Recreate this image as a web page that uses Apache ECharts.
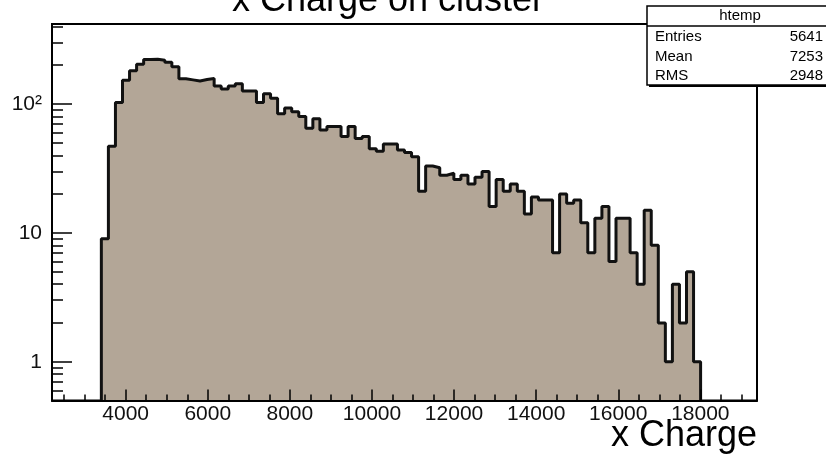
<!DOCTYPE html>
<html><head><meta charset="utf-8">
<script src="https://cdn.jsdelivr.net/npm/echarts@6/dist/echarts.min.js"></script>
<style>html,body{margin:0;padding:0;background:#fff}#c{width:826px;height:464px}</style>
</head><body><div id="c"></div>
<script>
const chartTitle = 'x Charge on cluster';
const xTitle = 'x Charge';
const histName = 'htemp';
const statLabels = ['Entries', 'Mean', 'RMS'];
const statValues = ['5641', '7253', '2948'];

// histogram binning (100 bins over the axis range); counts start at bin index 7
const xRange = [2205, 19380];
const nBins = 100;
const firstBin = 7;
const counts = [
  9, 47, 103, 153, 181, 204, 222, 223, 219, 211,
  195, 157, 154, 151, 155, 158, 138, 131, 138, 144,
  126, 126, 103, 120, 111, 84, 93, 87, 80, 65,
  77, 63, 67, 67, 56, 67, 54,
  56, 45, 43, 49, 49, 44, 42, 39, 21, 33,
  32, 28, 29, 26, 28, 24, 27, 30,
  16, 26, 21, 24, 21, 14, 19, 18, 18, 7,
  20, 17, 18, 12, 7, 13, 16, 6, 13, 13,
  7, 4, 15, 8, 2, 1, 4, 2, 5, 1
];

const xMajorTicks = [4000, 6000, 8000, 10000, 12000, 14000, 16000, 18000];
const xMinorTicks = [2500, 3000, 3500, 4500, 5000, 5500, 6500, 7000, 7500, 8500, 9000, 9500,
  10500, 11000, 11500, 12500, 13000, 13500, 14500, 15000, 15500, 16500, 17000, 17500, 18500, 19000];
const yRange = [0.5, 418];
const yMajorTicks = [1, 10, 100];
const yMajorLabels = ['1', '10', '10²'];
const yMinorTicks = [0.6, 0.7, 0.8, 0.9, 2, 3, 4, 5, 6, 7, 8, 9, 20, 30, 40, 50, 60, 70, 80, 90, 200, 300, 400];

const FONT = '"Liberation Sans", Arial, Helvetica, sans-serif';
const fillColor = '#b3a697';

const binW = (xRange[1] - xRange[0]) / nBins;
const stepData = [[xRange[0] + firstBin * binW, yRange[0]]];
counts.forEach((c, i) => stepData.push([xRange[0] + (firstBin + i) * binW, c]));
stepData.push([xRange[0] + (firstBin + counts.length) * binW, yRange[0]]);

const chart = echarts.init(document.getElementById('c'), null, {renderer: 'canvas'});

const baseX = {
  type: 'value', min: xRange[0], max: xRange[1], position: 'bottom', z: 5,
  splitLine: {show: false}
};
const baseY = {
  type: 'log', logBase: 10, min: yRange[0], max: yRange[1], position: 'left', z: 5,
  splitLine: {show: false}
};

chart.setOption({
  animation: false,
  backgroundColor: '#fff',
  grid: {left: 52, right: 69, top: 24, bottom: 63.5, show: true, borderColor: '#000', borderWidth: 2, backgroundColor: 'transparent'},
  xAxis: [
    Object.assign({}, baseX, {
      axisLine: {show: true, lineStyle: {color: '#000', width: 2}},
      axisTick: {show: true, inside: true, length: 11, lineStyle: {color: '#000', width: 1.5}, customValues: xMajorTicks},
      axisLabel: {show: true, customValues: xMajorTicks, color: '#111', fontFamily: FONT, fontSize: 21, margin: 3,
        formatter: v => String(v)}
    }),
    Object.assign({}, baseX, {
      axisLine: {show: false},
      axisTick: {show: true, inside: true, length: 6, lineStyle: {color: '#000', width: 1.5}, customValues: xMinorTicks},
      axisLabel: {show: false}
    })
  ],
  yAxis: [
    Object.assign({}, baseY, {
      axisLine: {show: true, lineStyle: {color: '#000', width: 2}},
      axisTick: {show: true, inside: true, length: 20, lineStyle: {color: '#000', width: 1.5}, customValues: yMajorTicks},
      axisLabel: {show: true, customValues: yMajorTicks, color: '#111', fontFamily: FONT, fontSize: 21, margin: 10,
        formatter: v => yMajorLabels[yMajorTicks.indexOf(Math.round(v))] || String(v)}
    }),
    Object.assign({}, baseY, {
      axisLine: {show: false},
      axisTick: {show: true, inside: true, length: 11, lineStyle: {color: '#000', width: 1.5}, customValues: yMinorTicks},
      axisLabel: {show: false}
    })
  ],
  series: [{
    type: 'line', xAxisIndex: 0, yAxisIndex: 0, step: 'end', symbol: 'none', z: 2,
    data: stepData,
    lineStyle: {color: '#111', width: 3},
    areaStyle: {color: fillColor, opacity: 1, origin: 'start'}
  }],
  graphic: [
    {type: 'text', z: 100, x: 388, y: 1, style: {text: chartTitle, font: '36px ' + FONT, fill: '#000', textAlign: 'center', textVerticalAlign: 'middle'}},
    {type: 'text', z: 100, x: 757, y: 436, style: {text: xTitle, font: '36px ' + FONT, fill: '#000', textAlign: 'right', textVerticalAlign: 'middle'}},
    {type: 'rect', z: 100, shape: {x: 649, y: 8, width: 200, height: 79}, style: {fill: '#000'}},
    {type: 'rect', z: 101, shape: {x: 647, y: 6, width: 200, height: 79}, style: {fill: '#fff', stroke: '#000', lineWidth: 1.5}},
    {type: 'line', z: 102, shape: {x1: 647, y1: 26, x2: 830, y2: 26}, style: {stroke: '#000', lineWidth: 1.5}},
    {type: 'text', z: 102, x: 740, y: 16, style: {text: histName, font: '15px ' + FONT, fill: '#000', textAlign: 'center', textVerticalAlign: 'middle'}},
    ...statLabels.map((t, i) => ({type: 'text', z: 102, x: 655, y: 37 + i * 19.5, style: {text: t, font: '15px ' + FONT, fill: '#000', textAlign: 'left', textVerticalAlign: 'middle'}})),
    ...statValues.map((t, i) => ({type: 'text', z: 102, x: 823, y: 37 + i * 19.5, style: {text: t, font: '15px ' + FONT, fill: '#000', textAlign: 'right', textVerticalAlign: 'middle'}}))
  ]
});
</script>
</body></html>
